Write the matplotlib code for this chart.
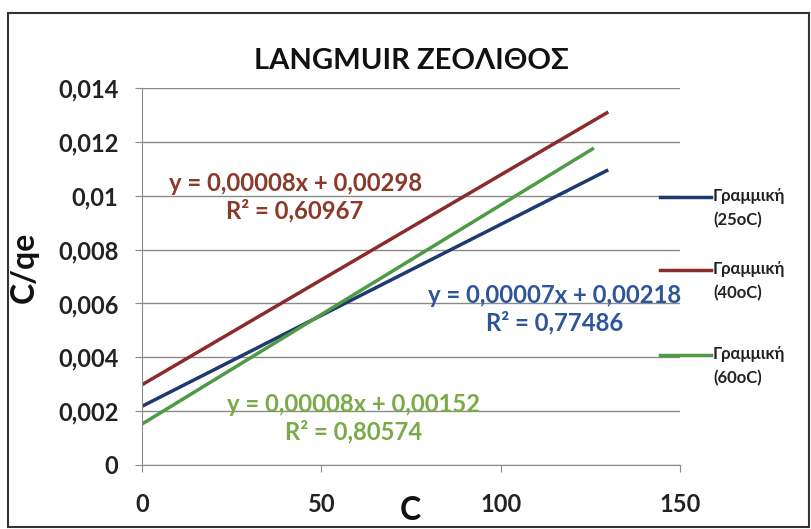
import matplotlib
matplotlib.use("Agg")
import matplotlib.pyplot as plt
from matplotlib.lines import Line2D

plt.rcParams['font.family'] = ['Lato', 'Open Sans', 'DejaVu Sans']

# Data (trendline endpoints)
x_25 = [0, 130]
y_25 = [0.00218, 0.01096]
x_40 = [0, 130]
y_40 = [0.00298, 0.01311]
x_60 = [0, 126]
y_60 = [0.00152, 0.01177]

labels = ["Γραμμική\n(25oC)", "Γραμμική\n(40oC)", "Γραμμική\n(60oC)"]
eqs = ["y = 0,00007x + 0,00218\nR² = 0,77486",
       "y = 0,00008x + 0,00298\nR² = 0,60967",
       "y = 0,00008x + 0,00152\nR² = 0,80574"]
yticks = [0, 0.002, 0.004, 0.006, 0.008, 0.01, 0.012, 0.014]
ytick_labels = ["0", "0,002", "0,004", "0,006", "0,008", "0,01", "0,012", "0,014"]
xticks = [0, 50, 100, 150]

c_blue = "#1f3a6e"
c_red = "#8c2b2b"
c_green = "#4f9a45"
t_blue = "#2e5597"
t_red = "#8b3a2a"
t_green = "#7aaa48"

W, H = 811, 529
fig = plt.figure(figsize=(W / 100, H / 100), dpi=100)
fig.patch.set_facecolor("white")

# outer frame
frame = plt.Rectangle((8 / W, 2 / H), (W - 10) / W, (H - 15) / H, transform=fig.transFigure,
                      fill=False, edgecolor="#333333", linewidth=1.5)
fig.patches.append(frame)

ax = fig.add_axes([142 / W, (H - 465) / H, 538 / W, 377 / H])
ax.set_xlim(0, 150)
ax.set_ylim(0, 0.014)
ax.set_yticks(yticks)
ax.set_yticklabels(ytick_labels)
ax.set_xticks(xticks)
ax.yaxis.grid(True, color="#8a8a8a", linewidth=1)
ax.set_axisbelow(True)
for s in ["top", "right"]:
    ax.spines[s].set_visible(False)
ax.spines["left"].set_color("#8a8a8a")
ax.spines["bottom"].set_color("#8a8a8a")
ax.tick_params(axis="both", colors="#8a8a8a", length=5, labelcolor="#222222",
               labelsize=17)
ax.tick_params(axis="x", pad=15)
ax.tick_params(axis="y", pad=12)
for lab in ax.get_xticklabels() + ax.get_yticklabels():
    lab.set_fontweight("bold")

ax.plot(x_25, y_25, color=c_blue, linewidth=2.5, solid_capstyle="butt")
ax.plot(x_40, y_40, color=c_red, linewidth=2.5, solid_capstyle="butt")
ax.plot(x_60, y_60, color=c_green, linewidth=2.5, solid_capstyle="butt")

# equations
eq_kw = dict(fontsize=17.2, fontweight="bold", ha="center", va="center", linespacing=1.2)
ax.text(115.1, 0.00579, eqs[0], color=t_blue, **eq_kw)
ax.text(42.7, 0.00995, eqs[1], color=t_red, **eq_kw)
ax.text(59.0, 0.00175, eqs[2], color=t_green, **eq_kw)

ax.set_title("LANGMUIR ΖΕΟΛΙΘΟΣ", fontsize=21, fontweight="bold", color="#111111", pad=14)
fig.text(24 / W, 1 - 267 / H, "C/qe", rotation=90, fontsize=23, fontweight="bold",
         ha="center", va="center", color="#111111")
fig.text(410 / W, 1 - 511 / H, "C", fontsize=23, fontweight="bold",
         ha="center", va="center", color="#111111")

# legend (manual placement to mimic Excel)
leg_y = [197, 270, 355]
for lab, c, yy in zip(labels, (c_blue, c_red, c_green), leg_y):
    fig.add_artist(Line2D([660 / W, 711 / W], [1 - yy / H, 1 - yy / H], color=c,
                          linewidth=2.5, transform=fig.transFigure))
    fig.text(713 / W, 1 - (yy - 9) / H, lab, fontsize=12, fontweight="bold",
             color="#222222", ha="left", va="top", linespacing=1.6)

fig.savefig("out.png", dpi=100, facecolor="white")
